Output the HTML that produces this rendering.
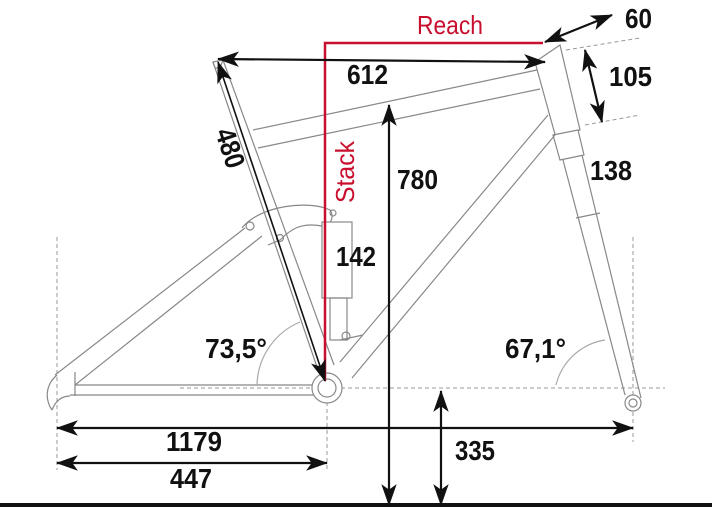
<!DOCTYPE html>
<html><head><meta charset="utf-8"><style>
html,body{margin:0;padding:0;background:#fff;width:712px;height:507px;overflow:hidden}
svg{display:block}
.t{font-family:"Liberation Sans",sans-serif;font-weight:bold;font-size:28px;fill:#111}
.r{font-family:"Liberation Sans",sans-serif;font-size:26px;fill:#c8102e}
</style></head><body>
<svg width="712" height="507" viewBox="0 0 712 507" xmlns="http://www.w3.org/2000/svg">
<defs>
<marker id="b" viewBox="0 0 20 14" refX="19" refY="7" markerWidth="22" markerHeight="16" orient="auto-start-reverse" markerUnits="userSpaceOnUse"><path d="M0,0 L20,7 L0,14 L5,7z" fill="#111"/></marker>
</defs>
<g stroke="#999" stroke-width="1" stroke-dasharray="4,3" fill="none">
<line x1="57" y1="237" x2="57" y2="470"/>
<line x1="327" y1="395" x2="327" y2="470"/>
<line x1="633" y1="237" x2="633" y2="442"/>
<line x1="180" y1="388" x2="665" y2="388"/>
<line x1="566" y1="50" x2="640" y2="38"/>
<line x1="585" y1="125" x2="640" y2="115"/>
</g>
<g stroke="#888" stroke-width="1.2" fill="none">
<line x1="253" y1="130" x2="537" y2="70"/>
<line x1="258" y1="148" x2="540" y2="89"/>
<polygon points="535,62 560,45 580,130 556,138" fill="#fff"/>
<polygon points="553,135 578,130 584,155 560,160" fill="#fff"/>
<line x1="563" y1="160" x2="625" y2="395"/>
<line x1="582" y1="155" x2="641" y2="398"/>
<line x1="576" y1="218" x2="600" y2="213"/>
<line x1="548" y1="115" x2="340" y2="362"/>
<line x1="555" y1="135" x2="352" y2="378"/>
<line x1="213" y1="62" x2="318" y2="370"/>
<line x1="223" y1="60" x2="334" y2="365"/>
<polygon points="213,62 223,60 220,68 215,68"/>
<line x1="75" y1="385" x2="312" y2="385"/>
<line x1="70" y1="395" x2="314" y2="395"/>
<line x1="55" y1="375" x2="245" y2="228"/>
<line x1="75" y1="385" x2="262" y2="236"/>
<line x1="75" y1="372" x2="75" y2="396"/>
<path d="M57,375 C45,385 45,400 52,410 M52,410 C56,400 62,396 70,396"/>
<path d="M242,228 C260,205 310,200 330,210 C335,218 330,226 322,226 C300,222 290,230 280,240 L268,245"/>
<circle cx="250" cy="226" r="4"/><circle cx="280" cy="238" r="3.5"/><circle cx="333" cy="213" r="3"/>
<rect x="322" y="222" width="30" height="76" fill="#fff"/>
<rect x="330" y="298" width="17" height="42"/>
<circle cx="346" cy="336" r="4"/>
<line x1="340" y1="340" x2="363" y2="335"/>
<circle cx="327" cy="388" r="15" fill="#fff"/>
<circle cx="327" cy="388" r="9"/>
<circle cx="633" cy="403" r="8" fill="#fff"/><circle cx="633" cy="403" r="4"/>
<path d="M257,385 A70,70 0 0 1 300,322" stroke="#aaa"/>
<path d="M556,385 A60,60 0 0 1 605,340" stroke="#aaa"/>
</g>
<polyline points="325,381 325,43 543,43" stroke="#c8102e" stroke-width="2.5" fill="none"/>
<text class="r" x="417" y="34" textLength="66" lengthAdjust="spacingAndGlyphs">Reach</text>
<text class="r" transform="translate(354,203) rotate(-90)" textLength="62" lengthAdjust="spacingAndGlyphs">Stack</text>
<g stroke="#111" stroke-width="2.2" fill="none">
<line x1="218" y1="59" x2="545" y2="62" marker-start="url(#b)" marker-end="url(#b)"/>
<line x1="218" y1="62" x2="325" y2="381" marker-start="url(#b)" marker-end="url(#b)" stroke-width="1.6"/>
<line x1="389" y1="105" x2="389" y2="505" marker-start="url(#b)" marker-end="url(#b)"/>
<line x1="441" y1="391" x2="441" y2="505" marker-start="url(#b)" marker-end="url(#b)"/>
<line x1="57" y1="428" x2="633" y2="428" marker-start="url(#b)" marker-end="url(#b)"/>
<line x1="57" y1="463" x2="327" y2="463" marker-start="url(#b)" marker-end="url(#b)"/>
<line x1="545" y1="42" x2="612" y2="15" marker-start="url(#b)" marker-end="url(#b)"/>
<line x1="585" y1="50" x2="602" y2="122" marker-start="url(#b)" marker-end="url(#b)"/>
</g>
<rect x="0" y="503" width="712" height="4" fill="#111"/>
<g lengthAdjust="spacingAndGlyphs">
<text class="t" x="347" y="84" textLength="41" lengthAdjust="spacingAndGlyphs">612</text>
<text class="t" x="625" y="28" textLength="27" lengthAdjust="spacingAndGlyphs">60</text>
<text class="t" x="609" y="86" textLength="43" lengthAdjust="spacingAndGlyphs">105</text>
<text class="t" x="590" y="180" textLength="42" lengthAdjust="spacingAndGlyphs">138</text>
<text class="t" x="397" y="189" textLength="41" lengthAdjust="spacingAndGlyphs">780</text>
<text class="t" x="336" y="266" textLength="40" lengthAdjust="spacingAndGlyphs">142</text>
<text class="t" x="205" y="358" textLength="62" lengthAdjust="spacingAndGlyphs">73,5°</text>
<text class="t" x="505" y="358" textLength="61" lengthAdjust="spacingAndGlyphs">67,1°</text>
<text class="t" x="166" y="451" textLength="56" lengthAdjust="spacingAndGlyphs">1179</text>
<text class="t" x="170" y="488" textLength="42" lengthAdjust="spacingAndGlyphs">447</text>
<text class="t" x="455" y="460" textLength="40" lengthAdjust="spacingAndGlyphs">335</text>
<text class="t" transform="translate(215,132) rotate(72)" textLength="40" lengthAdjust="spacingAndGlyphs">480</text>
</g>
</svg>
</body></html>
